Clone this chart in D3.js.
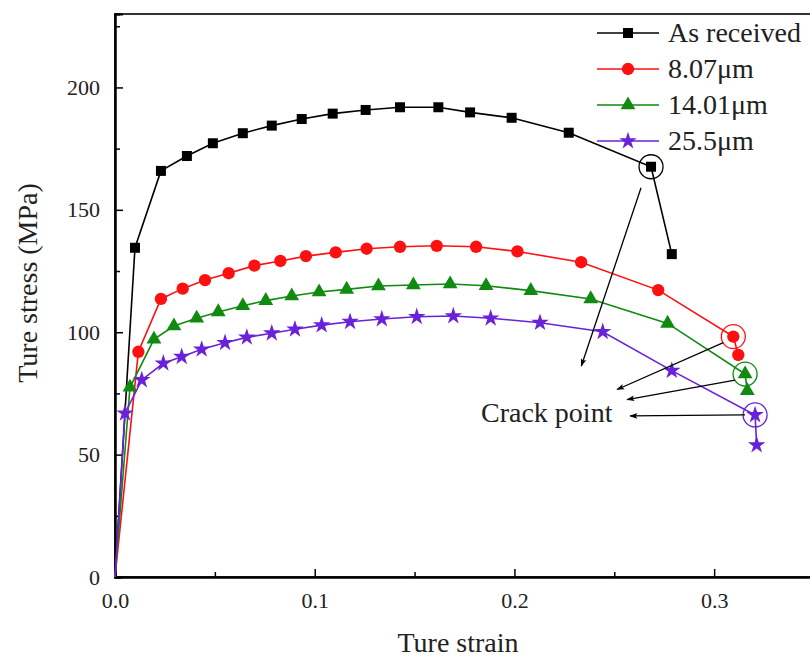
<!DOCTYPE html>
<html>
<head>
<meta charset="utf-8">
<script src="https://cdn.jsdelivr.net/npm/d3@7"></script>
<style>
  body { margin: 0; background: #fff; }
  text { font-family: "Liberation Serif", "Times New Roman", serif; }
</style>
</head>
<body>
<div id="viz-container"></div>
<script>
// data (strain, stress in MPa)
let seriesNames = ["As received", "8.07\u03bcm", "14.01\u03bcm", "25.5\u03bcm"];
let seriesColors = ["#000000", "#ff1010", "#108a10", "#6a22d8"];

let asReceived = [
  [0, 0], [0.010, 134.5], [0.023, 165.9], [0.036, 172.0], [0.049, 177.2], [0.064, 181.3],
  [0.0785, 184.4], [0.0935, 187.1], [0.109, 189.3], [0.1255, 190.8], [0.1427, 191.9],
  [0.1619, 191.9], [0.1778, 189.8], [0.1986, 187.6], [0.2272, 181.5], [0.2684, 167.6], [0.2788, 131.9]
];
let grain807 = [
  [0, 0], [0.0117, 92.0], [0.023, 113.6], [0.0339, 117.8], [0.0451, 121.3], [0.0569, 124.1],
  [0.0698, 127.2], [0.0828, 129.1], [0.0956, 131.1], [0.1105, 132.6], [0.126, 134.1],
  [0.1427, 134.9], [0.1611, 135.3], [0.1808, 134.9], [0.2015, 133.0], [0.2334, 128.6],
  [0.272, 117.2], [0.3096, 98.2], [0.3121, 90.7]
];
let grain1401 = [
  [0, 0], [0.0075, 77.5], [0.0195, 97.1], [0.0295, 102.5], [0.0409, 105.7], [0.0517, 108.3],
  [0.064, 110.8], [0.0755, 112.9], [0.0885, 114.8], [0.1022, 116.4], [0.116, 117.5],
  [0.1319, 118.9], [0.1494, 119.3], [0.1678, 119.7], [0.1858, 119.0], [0.2082, 117.0],
  [0.2382, 113.6], [0.2767, 103.6], [0.3155, 82.9], [0.3166, 76.1]
];
let grain255 = [
  [0, 0], [0.005, 66.9], [0.0134, 80.5], [0.0242, 87.3], [0.0334, 90.0], [0.0434, 93.0],
  [0.0551, 95.7], [0.066, 97.9], [0.0785, 99.6], [0.0901, 101.2], [0.1035, 102.9],
  [0.1177, 104.3], [0.1336, 105.4], [0.1511, 106.3], [0.1694, 106.6], [0.1881, 105.7],
  [0.2128, 103.9], [0.2442, 100.2], [0.2788, 84.3], [0.3205, 66.2], [0.3213, 53.9]
];
let allSeries = [asReceived, grain807, grain1401, grain255];

// crack points (circled) and where their arrows end
let crackPoints = [[0.2684, 167.6], [0.3096, 98.2], [0.3155, 82.9], [0.3205, 66.2]];
let arrowEnds = [[0.2335, 86.2], [0.2514, 76.6], [0.2564, 72.5], [0.2579, 65.8]];

let xTicks = [0, 0.1, 0.2, 0.3];
let xMinor = [0.05, 0.15, 0.25];
let yTicks = [0, 50, 100, 150, 200];
let yMinor = [25, 75, 125, 175, 225];

let viz = d3.select("#viz-container")
  .append("svg")
    .attr("width", 810)
    .attr("height", 660);

let x = d3.scaleLinear().domain([0, 0.35]).range([115, 814]);
let y = d3.scaleLinear().domain([0, 230]).range([577, 14]);

let symbols = [d3.symbolSquare, d3.symbolCircle, d3.symbolTriangle, d3.symbolStar];
let symbolSizes = [100, 120, 95, 95];

// frame
viz.append("rect")
  .attr("x", x(0)).attr("y", y(230))
  .attr("width", x(0.35) - x(0)).attr("height", y(0) - y(230))
  .attr("fill", "none").attr("stroke", "#333").attr("stroke-width", 2);

// axes, ticks pointing inward
let xAxis = viz.append("g")
  .attr("transform", "translate(0," + y(0) + ")")
  .call(d3.axisBottom(x).tickValues(xTicks).tickFormat(d3.format(".1f")).tickSize(-8).tickPadding(15));
let xAxisMinor = viz.append("g")
  .attr("transform", "translate(0," + y(0) + ")")
  .call(d3.axisBottom(x).tickValues(xMinor).tickFormat("").tickSize(-5));
let yAxis = viz.append("g")
  .attr("transform", "translate(" + x(0) + ",0)")
  .call(d3.axisLeft(y).tickValues(yTicks).tickSize(-8).tickPadding(15));
let yAxisMinor = viz.append("g")
  .attr("transform", "translate(" + x(0) + ",0)")
  .call(d3.axisLeft(y).tickValues(yMinor).tickFormat("").tickSize(-5));

[xAxis, xAxisMinor, yAxis, yAxisMinor].forEach(function(a) {
  a.select(".domain").attr("stroke", "#000").attr("stroke-width", 2);
  a.selectAll(".tick line").attr("stroke", "#000").attr("stroke-width", 1.5);
  a.selectAll("text").attr("font-size", 22).attr("fill", "#222")
    .style("font-family", "Liberation Serif, serif");
});

// axis titles
viz.append("text")
  .attr("x", 458).attr("y", 652)
  .attr("text-anchor", "middle").attr("font-size", 28).attr("fill", "#222")
  .text("Ture strain");
viz.append("text")
  .attr("transform", "translate(37,283) rotate(-90)")
  .attr("text-anchor", "middle").attr("font-size", 28).attr("fill", "#222")
  .text("Ture stress (MPa)");

// lines and markers
let line = d3.line().x(d => x(d[0])).y(d => y(d[1]));

allSeries.forEach(function(data, i) {
  viz.append("path")
    .datum(data)
    .attr("d", line)
    .attr("fill", "none")
    .attr("stroke", seriesColors[i])
    .attr("stroke-width", 1.6);

  viz.selectAll(".mark" + i)
    .data(data.filter(d => d[1] > 0))
    .enter().append("path")
      .attr("class", "mark" + i)
      .attr("d", d3.symbol().type(symbols[i]).size(symbolSizes[i]))
      .attr("transform", d => "translate(" + x(d[0]) + "," + y(d[1]) + ")")
      .attr("fill", seriesColors[i]);
});

// crack point circles and arrows
viz.append("defs").append("marker")
  .attr("id", "arrow")
  .attr("viewBox", "0 0 10 10")
  .attr("refX", 9).attr("refY", 5)
  .attr("markerWidth", 9).attr("markerHeight", 8)
  .attr("markerUnits", "userSpaceOnUse")
  .attr("orient", "auto")
  .append("path")
    .attr("d", "M0,1.5L10,5L0,8.5L2,5Z")
    .attr("fill", "#000");

viz.selectAll(".crackCircle")
  .data(crackPoints)
  .enter().append("circle")
    .attr("class", "crackCircle")
    .attr("cx", d => x(d[0]))
    .attr("cy", d => y(d[1]))
    .attr("r", 12)
    .attr("fill", "none")
    .attr("stroke", (d, i) => seriesColors[i])
    .attr("stroke-width", 1.3);

viz.selectAll(".crackArrow")
  .data(crackPoints)
  .enter().append("line")
    .attr("class", "crackArrow")
    .attr("x1", d => x(d[0]) - 10)
    .attr("y1", (d, i) => i === 0 ? y(d[1]) + 21 : y(d[1]) + (i === 3 ? 0 : 6))
    .attr("x2", (d, i) => x(arrowEnds[i][0]))
    .attr("y2", (d, i) => y(arrowEnds[i][1]))
    .attr("stroke", "#000")
    .attr("stroke-width", 1.3)
    .attr("marker-end", "url(#arrow)");

viz.append("text")
  .attr("x", 481).attr("y", 422)
  .attr("font-size", 28).attr("fill", "#222")
  .text("Crack point");

// legend
let legend = viz.selectAll(".legend")
  .data(seriesNames)
  .enter().append("g")
    .attr("class", "legend")
    .attr("transform", (d, i) => "translate(597," + (33 + i * 36) + ")");

legend.append("line")
  .attr("x1", 0).attr("x2", 62)
  .attr("stroke", (d, i) => seriesColors[i])
  .attr("stroke-width", 1.6);
legend.append("path")
  .attr("d", (d, i) => d3.symbol().type(symbols[i]).size(symbolSizes[i])())
  .attr("transform", "translate(31,0)")
  .attr("fill", (d, i) => seriesColors[i]);
legend.append("text")
  .attr("x", 71).attr("y", 9)
  .attr("font-size", 28).attr("fill", "#222")
  .text(d => d);
</script>
</body>
</html>
